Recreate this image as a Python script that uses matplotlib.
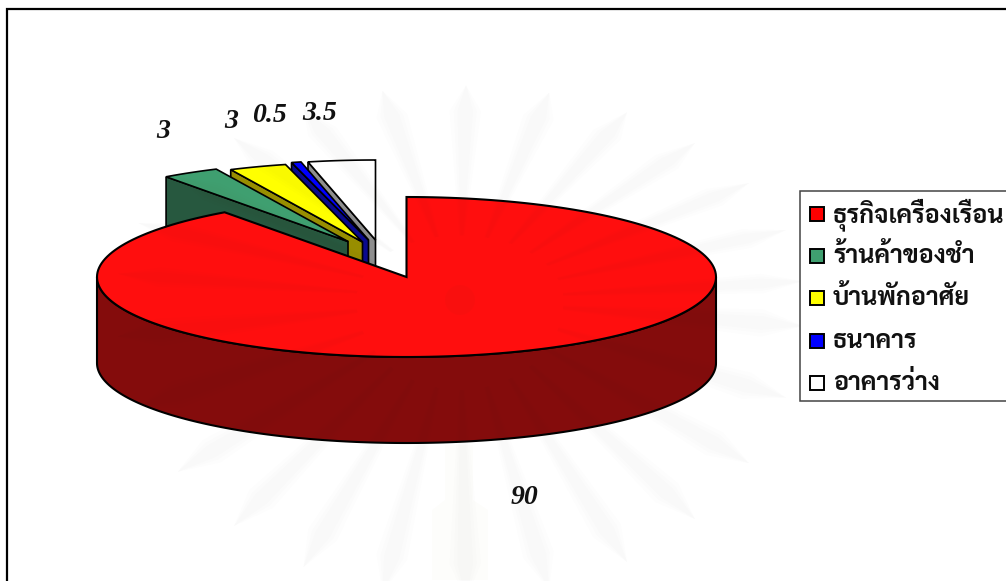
import numpy as np
import matplotlib
matplotlib.use("Agg")
import matplotlib.pyplot as plt
from matplotlib.patches import Polygon, Rectangle, Circle

# chart values
categories = ["ธุรกิจเครื่องเรือน", "ร้านค้าของชำ", "บ้านพักอาศัย", "ธนาคาร", "อาคารว่าง"]
values = [90, 3, 3, 0.5, 3.5]
value_labels = ["90", "3", "3", "0.5", "3.5"]

# styles and placement, in image pixels
top_colors = ["#FF0E0E", "#3F9F70", "#FFFF00", "#0000FF", "#FFFFFF"]
side_colors = ["#840C0C", "#27583F", "#988E00", "#0A0A8E", "#8E8E8E"]
explode_x = [0, -58.5, -44, -38, -31]
explode_y = [0, -35.5, -35, -37, -37]
label_x = [524, 163, 231, 269, 320]
label_y = [497, 131, 122, 116, 114]

cx, cy = 406.5, 277
rx, ry = 309.5, 80
depth = 86

fig = plt.figure(figsize=(10.06, 5.81), dpi=100)
ax = fig.add_axes([0, 0, 1, 1])
ax.set_xlim(0, 1006)
ax.set_ylim(581, 0)
ax.axis("off")


def rim(start, end, x0, y0):
    t = np.radians(np.linspace(start, end, 200))
    return np.column_stack([x0 + rx * np.cos(t), y0 - ry * np.sin(t)])


# slice angles, clockwise from 12 o'clock
sweeps = np.array(values) / sum(values) * 360
starts = 90 - np.concatenate([[0], np.cumsum(sweeps)[:-1]])
ends = starts - sweeps

# small exploded slices, back to front
for i in range(len(values) - 1, 0, -1):
    x0, y0 = cx + explode_x[i], cy + explode_y[i]
    arc = rim(starts[i], ends[i], x0, y0)
    # the cut face under the left radial edge
    side = [arc[0], (x0, y0), (x0, y0 + depth), (arc[0][0], arc[0][1] + depth)]
    ax.add_patch(Polygon(side, closed=True, fc=side_colors[i], ec="black", lw=1.2, zorder=2))
    ax.add_patch(Polygon(np.vstack([[(x0, y0)], arc]), closed=True, fc=top_colors[i],
                         ec="black", lw=1.2, joinstyle="miter", zorder=2))

# big slice: outer wall first, then the top
front = rim(180, 360, cx, cy)
wall = np.vstack([front, (front + [0, depth])[::-1]])
ax.add_patch(Polygon(wall, closed=True, fc=side_colors[0], ec="black", lw=1.5, zorder=3))
big = np.vstack([[(cx, cy)], rim(starts[0], ends[0], cx, cy)])
ax.add_patch(Polygon(big, closed=True, fc=top_colors[0], ec="black", lw=1.5,
                     joinstyle="miter", zorder=3))

for x, y, txt in zip(label_x, label_y, value_labels):
    ax.text(x, y, txt, ha="center", va="center", fontsize=20, family="Liberation Serif",
            weight="bold", style="italic", color="#111111", zorder=6)

# outer frame runs off the right and bottom of the image
ax.plot([7.5, 7.5, 1006], [581, 9, 9], color="black", lw=1.6, solid_joinstyle="miter", zorder=6)

# legend box
ax.add_patch(Rectangle((800, 191), 220, 210, fc="white", ec="#444444", lw=1.1, zorder=6, clip_on=True))
row_y = [214, 256, 298, 340.5, 382.5]
legend_colors = ["#FF0000", "#3F9F70", "#FFFF00", "#0000FF", "#FFFFFF"]
for y, name, c in zip(row_y, categories, legend_colors):
    ax.add_patch(Rectangle((810.5, y - 7), 13.5, 14, fc=c, ec="black", lw=1.4, zorder=7))
    ax.text(833, y + 1, name, va="center", ha="left", fontsize=18, family="Sarabun", weight="bold",
            color="#111111", zorder=7)

# faint watermark behind the document: sunburst and seal
wx, wy = 460, 300
wm_color = (0.3, 0.28, 0.1)
for a in np.arange(5, 365, 14.0):
    t = np.radians(a)
    rad_x, rad_y = 345, (215 if np.sin(t) > 0 else 300)
    # a few stacked widths so the ray edges stay soft
    for width in [1.5, 2.2, 3.0]:
        w = np.radians(width)
        pts = []
        for frac, off in [(0.3, 0.5), (0.88, 1.0), (1.0, 0.0), (0.88, -1.0), (0.3, -0.5)]:
            pts.append((wx + frac * rad_x * np.cos(t + off * w), wy - frac * rad_y * np.sin(t + off * w)))
        ax.add_patch(Polygon(pts, closed=True, fc=wm_color, ec="none", alpha=0.006, zorder=5))
ax.add_patch(Circle((460, 300), 15, fc=wm_color, ec="none", alpha=0.03, zorder=5))
ax.add_patch(Polygon([(432, 580), (432, 510), (445, 500), (445, 445), (473, 445), (473, 500),
                      (488, 510), (488, 580)], closed=True, fc=(0.75, 0.65, 0.3), ec="none",
                     alpha=0.02, zorder=5))

fig.savefig("out.png", dpi=100, facecolor="white")
